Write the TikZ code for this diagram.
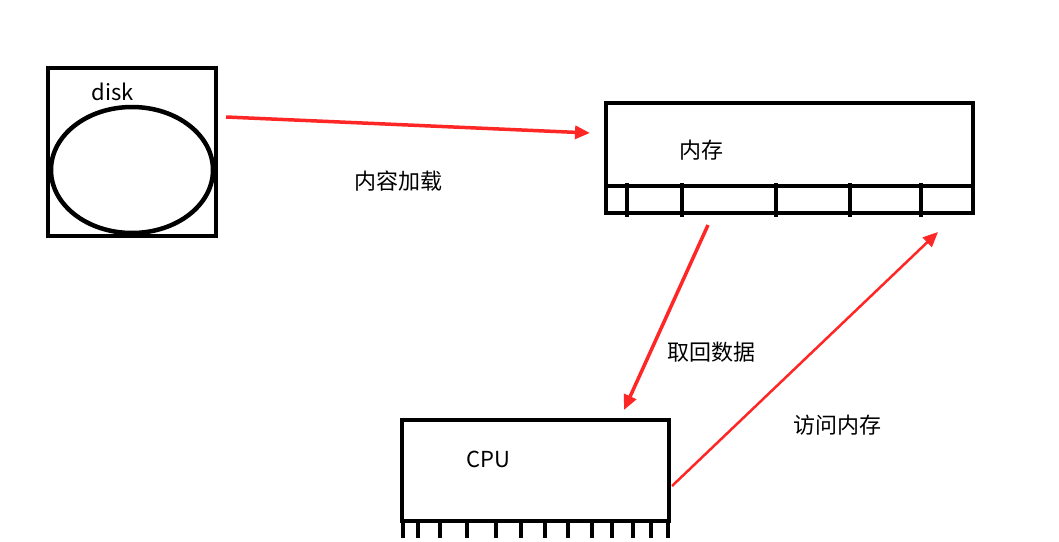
\documentclass[tikz,border=0pt]{standalone}
\usepackage{fontspec}
\setmainfont{Noto Sans CJK SC}
\usetikzlibrary{arrows.meta}
\begin{document}
\begin{tikzpicture}[x=1pt, y=-1pt,
    box/.style={draw, line width=4.5pt},
    pin/.style={line width=3.5pt},
    flow/.style={color=red!85, line width=3.5pt, -{Triangle[length=15pt, width=13pt]}},
    lbl/.style={font=\fontsize{22}{26}\selectfont, inner sep=0pt}
]
\useasboundingbox (0,0) rectangle (1059,541);
% disk
\draw[box] (48,68) rectangle (216,236);
\draw[box] (132,170) ellipse [x radius=81, y radius=63];
\node[lbl] (disk) at (113,92) {disk};
% memory
\draw[box] (606,103) rectangle (973,213);
\draw[box] (606,186) -- (973,186);
\foreach \x in {627,682,776,850,921} \draw[pin] (\x,183) -- (\x,217);
\node[lbl] (mem) at (701,150) {内存};
\coordinate (memin) at (590,133);
\coordinate (memout) at (708,225);
\coordinate (memback) at (938,232);
% cpu
\draw[box] (402,420) rectangle (669,521);
\foreach \x in {403,418,440,467,496,521,545,568,592,612,633,651,668} \draw[pin] (\x,521) -- (\x,538);
\node[lbl] (cpu) at (488,459) {CPU};
\coordinate (diskout) at (226,117);
\coordinate (cpuin) at (624,410);
\coordinate (cpuout) at (672,486);
% arrows
\draw[flow] (diskout) -- (memin);
\draw[flow] (memout) -- (cpuin);
\draw[flow, line width=2.5pt] (cpuout) -- (memback);
\node[lbl] (load) at (398,181) {内容加载};
\node[lbl] (fetch) at (711,352) {取回数据};
\node[lbl] (access) at (837,425) {访问内存};
\end{tikzpicture}
\end{document}
